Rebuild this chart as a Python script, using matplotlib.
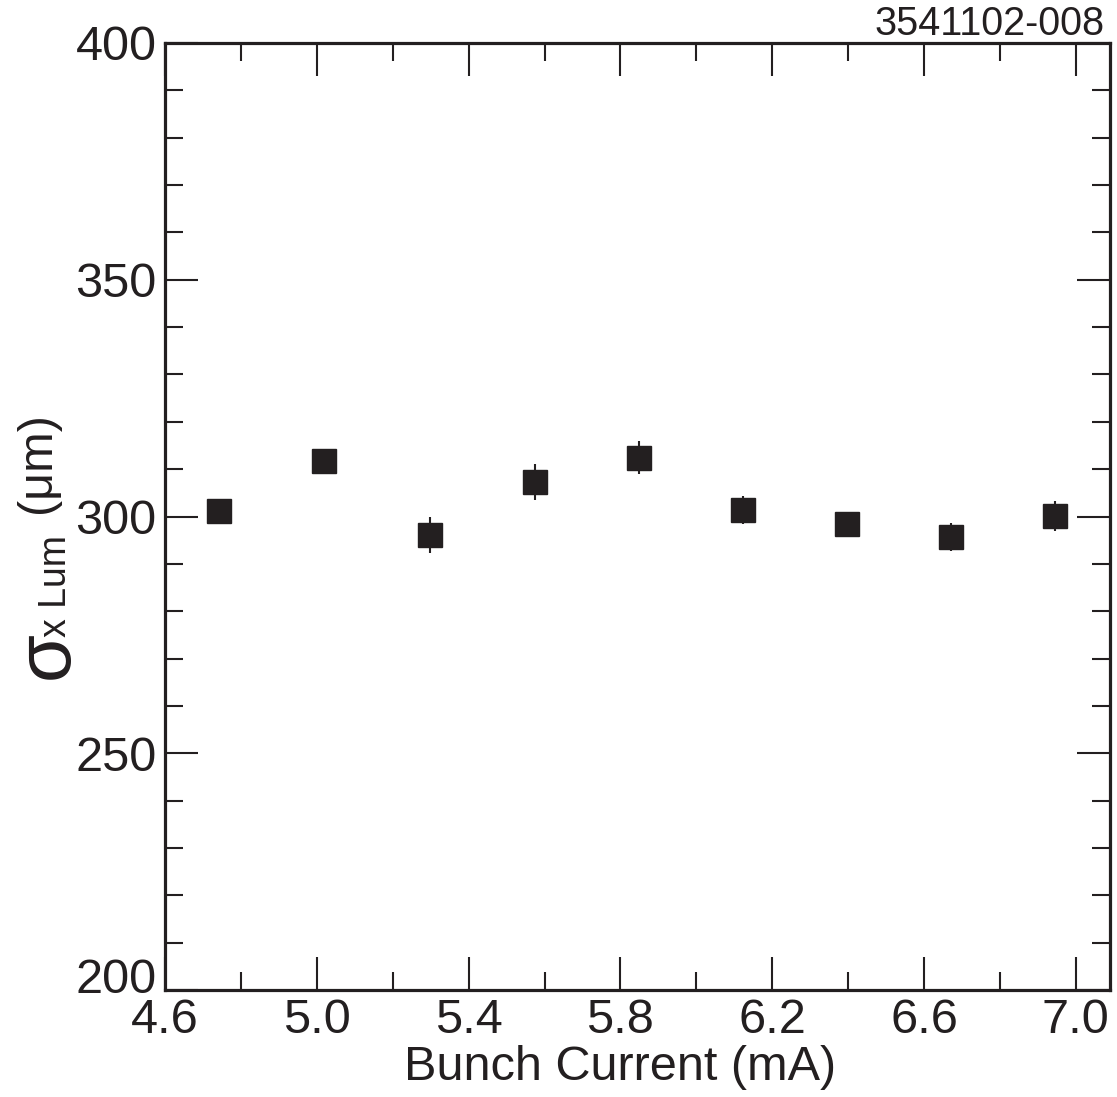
import matplotlib.pyplot as plt
from matplotlib.ticker import MultipleLocator
from matplotlib.transforms import ScaledTranslation

plt.rcParams['font.family'] = ['Liberation Sans', 'DejaVu Sans']

# bunch current (mA), sigma_x lum (um) and its error
corriente = [4.742, 5.020, 5.297, 5.574, 5.849, 6.124, 6.397, 6.671, 6.944]
sigma_x = [301.2, 311.7, 296.1, 307.2, 312.4, 301.4, 298.4, 295.7, 300.1]
error = [2.0, 2.0, 3.8, 3.8, 3.5, 3.0, 2.0, 3.0, 3.2]

negro = '#231f20'
W, H = 1117, 1097

fig = plt.figure(figsize=(W / 100, H / 100), dpi=100)
ax = fig.add_axes([165 / W, 1 - 990 / H, 945 / W, 947 / H])

ax.errorbar(corriente, sigma_x, yerr=error, fmt='s', color=negro,
            markersize=17.3, elinewidth=1.5, capsize=0)

ax.set_xlim(4.6, 7.09)
ax.set_ylim(200, 400)
ax.xaxis.set_major_locator(MultipleLocator(0.4))
ax.xaxis.set_minor_locator(MultipleLocator(0.2))
ax.yaxis.set_major_locator(MultipleLocator(50))
ax.yaxis.set_minor_locator(MultipleLocator(10))
ax.set_xticks([4.6, 5.0, 5.4, 5.8, 6.2, 6.6, 7.0])
ax.set_xticklabels(['4.6', '5.0', '5.4', '5.8', '6.2', '6.6', '7.0'])
ax.set_yticks([200, 250, 300, 350, 400])
ax.set_yticklabels(['200', '250', '300', '350', '400'])

ax.tick_params(which='both', direction='in', top=True, right=True,
               color=negro, width=1.5, labelsize=35, labelcolor=negro, pad=6)
ax.tick_params(which='major', length=24)
ax.tick_params(which='minor', length=13)
for s in ax.spines.values():
    s.set_linewidth(2.3)
    s.set_color(negro)

# the 200 label sits a bit higher so it clears 4.6
lab200 = ax.get_yticklabels()[0]
lab200.set_transform(lab200.get_transform() + ScaledTranslation(0, 0.14, fig.dpi_scale_trans))

ax.set_xlabel('Bunch Current (mA)', fontsize=35, color=negro)
ax.xaxis.set_label_coords((620 - 165) / 945, -0.058)

# y label in pieces: big sigma, subscript, units
fig.text(47 / W, 1 - 655 / H, 'σ', fontsize=56, rotation=90,
         ha='center', va='center', color=negro)
fig.text(56 / W, 1 - 586 / H, 'x Lum', fontsize=27, rotation=90,
         ha='center', va='center', color=negro)
fig.text(38 / W, 1 - 463 / H, '(μm)', fontsize=35, rotation=90,
         ha='center', va='center', color=negro)

fig.text(1105 / W, 1 - 24 / H, '3541102-008', fontsize=28.5,
         ha='right', va='center', color=negro)

fig.savefig('out.png', dpi=100)
